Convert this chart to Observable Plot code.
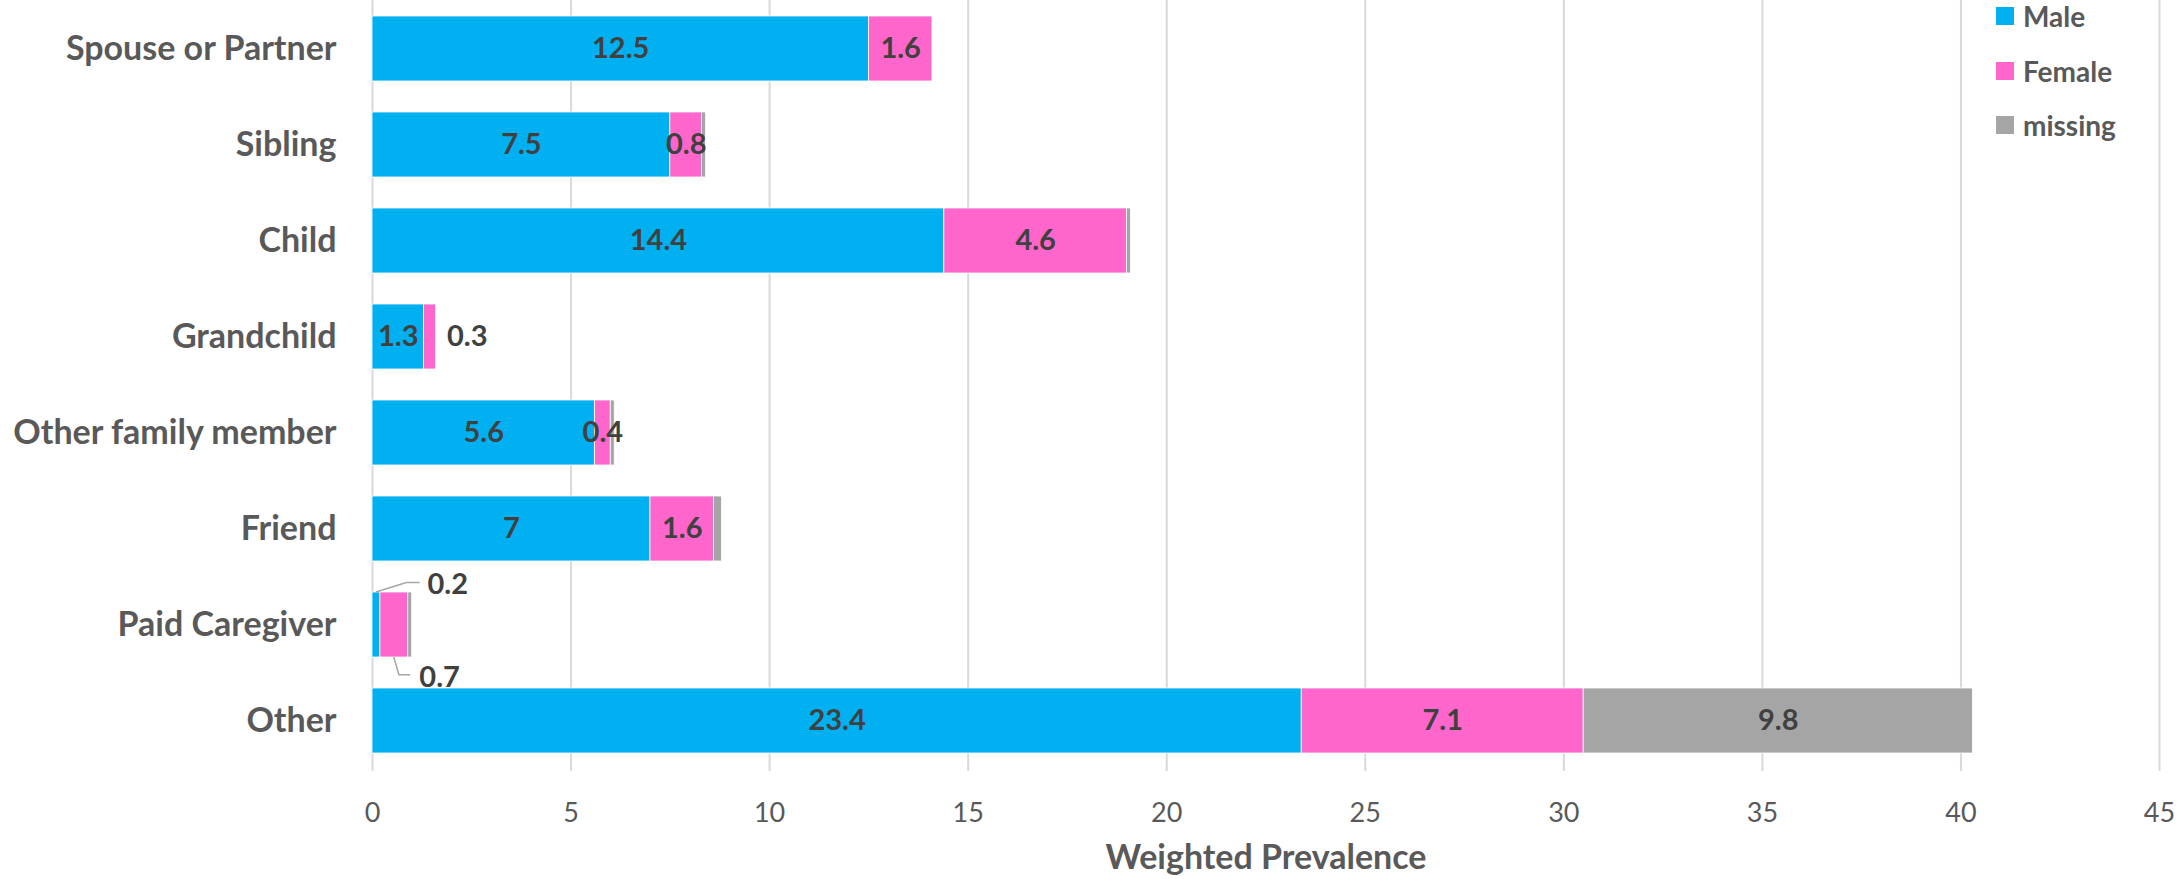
<!DOCTYPE html>
<html>
<head>
<meta charset="utf-8">
<script src="https://cdn.jsdelivr.net/npm/d3@7"></script>
<script src="https://cdn.jsdelivr.net/npm/@observablehq/plot@0.6"></script>
<style>
  html, body { margin: 0; padding: 0; background: #fff; }
  #wrap { position: relative; width: 2177px; height: 879px; font-family: Lato, "Open Sans", sans-serif; }
  #legend { position: absolute; left: 1996px; top: 0; }
  .item { position: absolute; left: 0; display: flex; align-items: center; height: 28px; white-space: nowrap; }
  .sw { width: 18px; height: 18px; margin-right: 9px; }
  .lab { font-weight: bold; font-size: 28px; color: #595959; }
</style>
</head>
<body>
<div id="wrap"><div id="legend"></div></div>
<script>
// Caregiver relationship to respondent, weighted prevalence by sex
const relations = ["Spouse or Partner", "Sibling", "Child", "Grandchild", "Other family member", "Friend", "Paid Caregiver", "Other"];
const male    = [12.5, 7.5, 14.4, 1.3, 5.6, 7, 0.2, 23.4];
const female  = [1.6, 0.8, 4.6, 0.3, 0.4, 1.6, 0.7, 7.1];
const missing = [0, 0.1, 0.1, 0, 0.1, 0.2, 0.1, 9.8];
const series  = ["Male", "Female", "missing"];
const colors  = ["#00B0F0", "#FF66CC", "#A5A5A5"];
const xTicks  = [0, 5, 10, 15, 20, 25, 30, 35, 40, 45];
const axisTitle = "Weighted Prevalence";

const bySeries = [male, female, missing];
const rows = relations.flatMap((relation, i) =>
  series.map((sex, k) => ({relation, sex, value: bySeries[k][i]}))
);

const fmt = v => String(v);
const isOutside = d => d.relation === "Grandchild" && d.sex === "Female";
const isCallout = d => d.relation === "Paid Caregiver";
// labels drawn inside their segment
const insideText = d => {
  if (d.value === 0 || isOutside(d) || isCallout(d)) return "";
  if (d.sex === "missing" && d.value < 1) return "";
  return fmt(d.value);
};

const labelStyle = {fill: "#404040", fontWeight: "bold", fontSize: 29};
const svgns = "http://www.w3.org/2000/svg";

// leader lines for the two Paid Caregiver call-outs
function leaders(index, scales) {
  const {x, y} = scales;
  const bw = typeof y.bandwidth === "function" ? y.bandwidth() : 0;
  const i = relations.indexOf("Paid Caregiver");
  const top = y(relations[i]);
  const bottom = top + bw;
  const xm = x(male[i] / 2);
  const xf = x(male[i] + female[i] / 2);
  const g = document.createElementNS(svgns, "g");
  const paths = [
    `M${xm},${top}L${xm + 30.4},${top - 9.4}H${xm + 43.7}`,
    `M${xf},${bottom}L${xf + 5},${bottom + 17.7}H${xf + 16.4}`
  ];
  for (const p of paths) {
    const el = document.createElementNS(svgns, "path");
    el.setAttribute("d", p);
    el.setAttribute("fill", "none");
    el.setAttribute("stroke", "#A6A6A6");
    el.setAttribute("stroke-width", "1.5");
    g.appendChild(el);
  }
  return g;
}

const chart = Plot.plot({
  width: 2177,
  height: 879,
  marginLeft: 372,
  marginRight: 18,
  marginTop: 0,
  marginBottom: 108,
  style: {fontFamily: "Lato, 'Open Sans', sans-serif", color: "#595959", background: "white"},
  x: {domain: [0, 45]},
  y: {domain: relations, range: [-2.4, 771.4], paddingInner: 0.32, paddingOuter: 0.16},
  color: {domain: series, range: colors},
  marks: [
    Plot.gridX(xTicks, {stroke: "#D9D9D9", strokeOpacity: 1, strokeWidth: 2}),
    Plot.barX(rows, Plot.stackX({x: "value", y: "relation", fill: "sex", stroke: "white", strokeWidth: 0.8})),
    Plot.text(rows, Plot.stackX({x: "value", y: "relation", z: "sex", text: insideText, ...labelStyle})),
    Plot.text(rows, Plot.stackX2({x: "value", y: "relation", z: "sex",
      text: d => isOutside(d) ? fmt(d.value) : "", textAnchor: "start", dx: 11, ...labelStyle})),
    Plot.text(rows, Plot.stackX({x: "value", y: "relation", z: "sex",
      text: d => isCallout(d) && d.sex === "Male" ? fmt(d.value) : "", textAnchor: "start", dx: 51, dy: -40, ...labelStyle})),
    Plot.text(rows, Plot.stackX({x: "value", y: "relation", z: "sex",
      text: d => isCallout(d) && d.sex === "Female" ? fmt(d.value) : "", textAnchor: "start", dx: 25, dy: 52.5, ...labelStyle})),
    leaders,
    Plot.axisX(xTicks, {tickSize: 0, tickPadding: 31, fontSize: 27, label: null}),
    Plot.axisY({tickSize: 0, tickPadding: 36, fontSize: 34, fontWeight: "bold", label: null}),
    Plot.text([axisTitle], {frameAnchor: "bottom", lineAnchor: "middle", dy: 87, fontSize: 34, fontWeight: "bold", fill: "#595959"})
  ]
});

const wrap = document.getElementById("wrap");
wrap.insertBefore(chart, wrap.firstChild);

// legend
const legend = document.getElementById("legend");
const legendTops = [2, 57, 111];
series.forEach((s, k) => {
  const item = document.createElement("div");
  item.className = "item";
  item.style.top = legendTops[k] + "px";
  const sw = document.createElement("div");
  sw.className = "sw";
  sw.style.background = colors[k];
  const lab = document.createElement("span");
  lab.className = "lab";
  lab.textContent = s;
  item.appendChild(sw);
  item.appendChild(lab);
  legend.appendChild(item);
});
</script>
</body>
</html>
